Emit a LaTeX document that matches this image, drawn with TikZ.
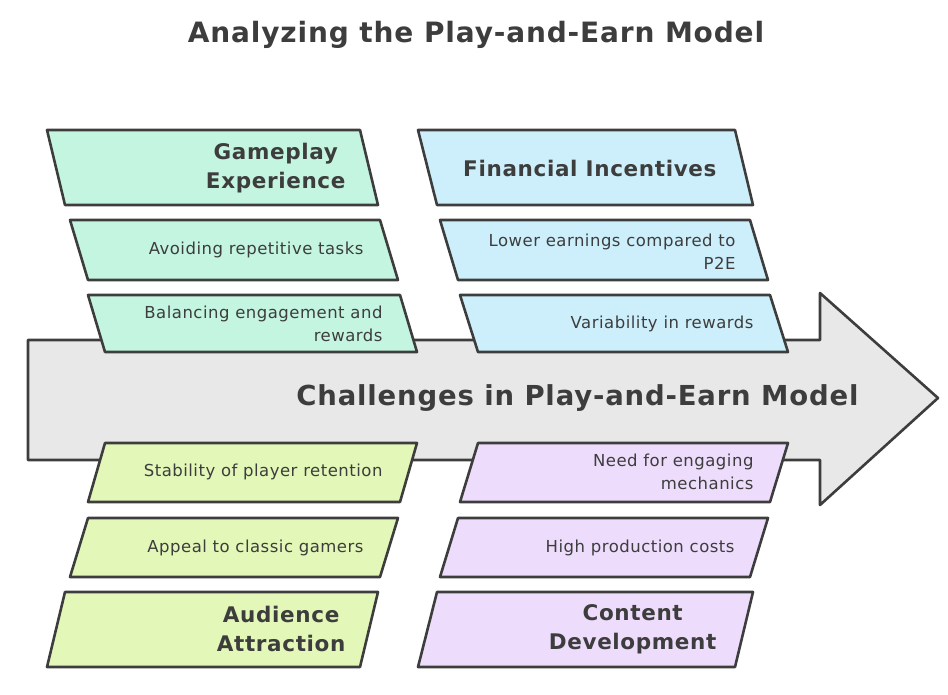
\documentclass[tikz,border=0pt]{standalone}
\usepackage{fontspec}
\setmainfont{DejaVu Sans}[LetterSpace=3]
\definecolor{ink}{HTML}{3D3D3D}
\definecolor{cg}{HTML}{C4F5E0}
\definecolor{cb}{HTML}{CDEFFB}
\definecolor{cl}{HTML}{E3F7B8}
\definecolor{cp}{HTML}{EDDCFB}
\definecolor{ca}{HTML}{E8E8E8}
\tikzset{shp/.style={draw=ink,line width=2.6pt,line join=round},
 item/.style={anchor=east,align=right,text=ink,font=\fontsize{16.5}{23}\selectfont},
 head/.style={anchor=east,align=center,text=ink,font=\fontsize{21.5}{29}\selectfont\bfseries}}
\newcommand\pgram[7]{\filldraw[shp,fill=#7] (#1,#3)--(#2,#3)--(#5,#6)--(#4,#6)--cycle;}
\begin{document}
\begin{tikzpicture}[x=1pt,y=-1pt]
\useasboundingbox (0,0) rectangle (948,694);
\node[text=ink,font=\fontsize{28}{30}\selectfont\bfseries] (title) at (476,35) {Analyzing the Play-and-Earn Model};
\filldraw[shp,fill=ca] (28,340)--(820,340)--(820,293)--(938,398)--(820,505)--(820,460)--(28,460)--cycle;
\node[anchor=east,text=ink,font=\fontsize{27.5}{30}\selectfont\bfseries] (spine) at (862,398) {Challenges in Play-and-Earn Model};
% top left
\pgram{47}{360}{130}{65}{378}{205}{cg}
\node[head] (h1) at (349,168) {Gameplay\\Experience};
\pgram{70}{380}{220}{88}{398}{280}{cg}
\node[item] (a1) at (367,250) {Avoiding repetitive tasks};
\pgram{88}{400}{295}{105}{417}{352}{cg}
\node[item] (a2) at (386,324) {Balancing engagement and\\rewards};
% top right
\pgram{418}{735}{130}{437}{753}{205}{cb}
\node[head] (h2) at (720,168) {Financial Incentives};
\pgram{440}{750}{220}{458}{768}{280}{cb}
\node[item] (b1) at (739,252) {Lower earnings compared to\\P2E};
\pgram{460}{770}{295}{478}{788}{352}{cb}
\node[item] (b2) at (757,324) {Variability in rewards};
% bottom left
\pgram{105}{417}{443}{88}{400}{502}{cl}
\node[item] (c1) at (386,472) {Stability of player retention};
\pgram{88}{398}{518}{70}{380}{577}{cl}
\node[item] (c2) at (367,548) {Appeal to classic gamers};
\pgram{65}{378}{592}{47}{360}{667}{cl}
\node[head] (h3) at (349,629) {Audience\\Attraction};
% bottom right
\pgram{478}{788}{443}{460}{770}{502}{cp}
\node[item] (d1) at (757,472) {Need for engaging\\mechanics};
\pgram{458}{768}{518}{440}{750}{577}{cp}
\node[item] (d2) at (738,548) {High production costs};
\pgram{437}{753}{592}{418}{735}{667}{cp}
\node[head] (h4) at (720,629) {Content\\Development};
\end{tikzpicture}
\end{document}
